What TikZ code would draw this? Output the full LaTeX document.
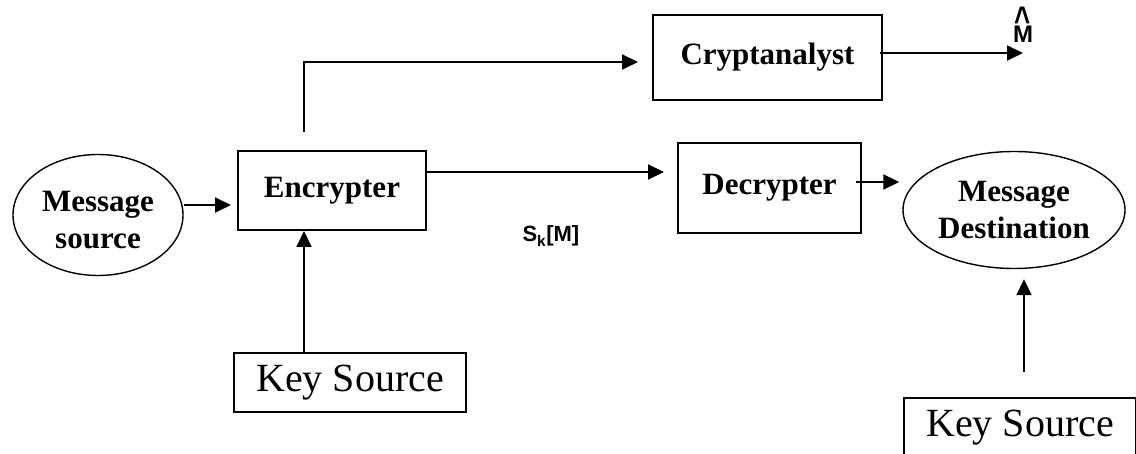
\documentclass[tikz,border=0pt]{standalone}
\usepackage{fontspec}
\setmainfont{Liberation Serif}
\newfontfamily\labelsans{Liberation Sans}
\usetikzlibrary{arrows.meta,shapes.geometric,calc}

\begin{document}
\begin{tikzpicture}[x=1pt,y=-1pt,
  box/.style={draw, line width=2pt, rectangle, inner sep=0pt,
    font=\bfseries\fontsize{31}{37}\selectfont},
  oval/.style={draw, line width=1.4pt, ellipse, inner sep=0pt, align=center,
    font=\bfseries\fontsize{31}{37}\selectfont},
  keybox/.style={draw, line width=2pt, rectangle, inner sep=0pt,
    font=\fontsize{40}{48}\selectfont},
  arr/.style={line width=2pt, -{Triangle[length=16pt,width=15pt]}},
]
\useasboundingbox (0,0) rectangle (1136,454);
\clip (0,0) rectangle (1136,454);

% blocks of the secrecy system
\node[oval, minimum width=170pt, minimum height=121pt] (msrc) at (98,215) {\rule{0pt}{31pt}Message\\source};
\node[box, minimum width=188pt, minimum height=79pt] (enc) at (332,190.5) {Encrypter};
\node[box, minimum width=229pt, minimum height=85pt] (crypt) at (767.5,57.5) {Cryptanalyst\hspace{6pt}};
\node[box, minimum width=183pt, minimum height=90pt] (dec) at (769.5,188) {Decrypter\hspace{22pt}};
\node[oval, minimum width=222pt, minimum height=117pt] (mdst) at (1014,210) {Message\\Destination};
\node[keybox, minimum width=232pt, minimum height=59pt] (ks1) at (350,382.5) {Key Source};
\node[keybox, minimum width=232pt, minimum height=59pt] (ks2) at (1020,427.5) {Key Source};

% labels: estimate M-hat and the cryptogram S_k[M]
\node[font=\labelsans\bfseries\fontsize{24}{28}\selectfont, anchor=base] (mhat) at (1023,43)
  {\ooalign{\hfil\raisebox{9pt}{\scalebox{1.15}[1.6]{\textasciicircum}}\hfil\cr M\cr}};
\node[font=\labelsans\bfseries\fontsize{22}{26}\selectfont, anchor=base west] (sk) at (519,242) {S\textsubscript{k}[M]};

% connectors
\coordinate (mtip) at (1023,53);
\coordinate (encin) at ([xshift=-28pt]enc.south);
\coordinate (dstin) at ([xshift=10pt]mdst.south);

\draw[arr, shorten >=6pt] ([yshift=10pt]msrc.east) -- ([yshift=10pt]msrc.east -| enc.west);
\draw[arr, shorten <=18pt, shorten >=14pt] ([xshift=-28pt]enc.north) |- ([yshift=-4.5pt]crypt.west);
\draw[arr] ([xshift=-3pt]crypt.east |- mtip) -- (mtip);
\draw[arr, shorten >=13pt] ([yshift=18.5pt]enc.east) -- ([yshift=18.5pt]enc.east -| dec.west);
\draw[arr, shorten >=3pt] ([xshift=-6pt,yshift=6pt]dec.east) -- ([yshift=6pt]dec.east -| mdst.west);
\draw[arr] (ks1.north -| encin) -- (encin);
\draw[arr, shorten <=25pt, shorten >=10pt] (ks2.north -| dstin) -- (dstin);
\end{tikzpicture}
\end{document}
